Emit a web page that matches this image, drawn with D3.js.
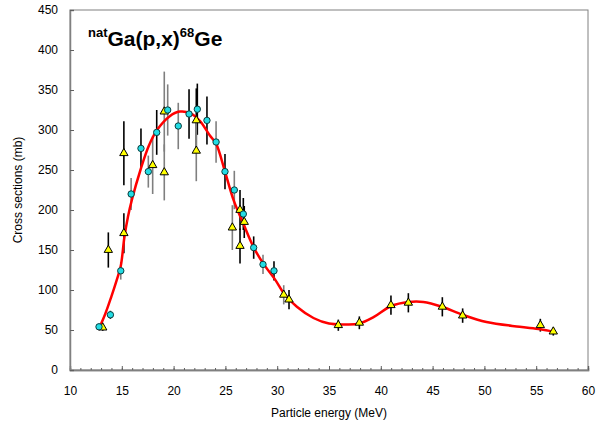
<!DOCTYPE html>
<html><head><meta charset="utf-8">
<script src="https://cdn.jsdelivr.net/npm/d3@7"></script>
<style>body{margin:0;background:#fff} text{font-family:Arial,"Liberation Sans",sans-serif}</style>
</head><body><svg id="c" width="608" height="433"></svg>
<script>
// ---- data ----
const xTicks = [10,15,20,25,30,35,40,45,50,55,60];
const yTicks = [0,50,100,150,200,250,300,350,400,450];

// cyan markers: energy, cross section, uncertainty, source of error bar (A = dark, B = grey)
const cyanE   = [12.8,13.9,14.9,15.9,16.85,17.56,18.37,19.43,20.45,21.49,22.29,23.22,24.1,24.96,25.86,26.73,27.73,28.63,29.69];
const cyanV   = [54,69,124,220,277,248,297,325,305,320,326,312,285,248,225,195,153,132,124];
const cyanErr = [3,5,11,20,25,20,28,32,29,31,32,30,26,22,24,20,14,12,12];
const cyanSrc = ["B","A","B","B","A","B","A","B","B","A","A","A","B","A","B","A","A","B","A"];

// yellow triangles
const triE   = [13.16,13.7,15.2,15.2,17.98,19.1,19.1,22.19,22.19,25.67,26.41,26.82,26.41,30.63,31.14,35.9,37.93,40.98,42.66,45.94,47.9,55.4,56.65];
const triV   = [53,150,171,271,256,323,247,312,274,178,200,185,155,94,88,56,59,81,84,79,68,56,48];
const triErr = [4,22,25,40,36,50,35,40,38,28,25,20,22,12,12,7,8,12,12,12,9,8,5];
const triSrc = ["A","A","A","A","B","B","B","A","B","B","A","A","A","B","A","A","A","A","A","A","A","A","A"];

// fitted curve
const fitE = [12.74,13.4,14.0,14.5,14.9,15.25,15.6,16.0,16.8,17.6,18.4,19.6,20.6,21.6,22.55,23.5,24.1,24.96,25.8,26.73,27.7,28.66,29.8,30.63,31.9,33.5,35.0,36.5,37.9,39.3,41.0,42.7,44.1,45.9,47.9,50.2,53.4,55.4,56.65];
const fitV = [50,70,92,112,130,166,192,214,250,280,300,317,323,321,311,293,283,248,212,183,154,133,113,96,79,65,58,57,58,66,80,85,85,79,69,60,54,51,48];

// ---- chart ----
const W=608,H=433, m={l:70,r:20,t:10,b:63};
const svg=d3.select("#c");
const x=d3.scaleLinear().domain([10,60]).range([m.l,W-m.r]);
const y=d3.scaleLinear().domain([0,450]).range([H-m.b,m.t]);

// frame
svg.append("rect").attr("x",x(10)).attr("y",y(450)).attr("width",x(60)-x(10)).attr("height",y(0)-y(450))
  .attr("fill","none").attr("stroke","#808080").attr("stroke-width",1);

// axes
const xAxis=d3.axisBottom(x).tickValues(xTicks).tickSize(-4).tickPadding(16).tickFormat(d3.format("d"));
const gx=svg.append("g").attr("transform",`translate(0,${y(0)})`).call(xAxis);
const gxm=svg.append("g").attr("transform",`translate(0,${y(0)})`)
  .call(d3.axisBottom(x).tickValues(d3.range(10,61,1)).tickSize(-2).tickFormat(""));
const yAxis=d3.axisLeft(y).tickValues(yTicks).tickSize(-4).tickPadding(12);
const gy=svg.append("g").attr("transform",`translate(${x(10)},0)`).call(yAxis);
[gx,gxm,gy].forEach(g=>{
  g.select(".domain").attr("stroke","#808080").attr("stroke-width",1.5);
  g.selectAll(".tick line").attr("stroke","#606060");
  g.selectAll("text").attr("font-size",12).attr("fill","#000");
});

// error bars
const errCol={A:"#000000",B:"#7f7f7f"};
const cyan=cyanE.map((e,i)=>({e,v:cyanV[i],d:cyanErr[i],s:cyanSrc[i]}));
const tri=triE.map((e,i)=>({e,v:triV[i],d:triErr[i],s:triSrc[i]}));
svg.append("g").selectAll("line").data(cyan.concat(tri)).join("line")
  .attr("x1",d=>x(d.e)).attr("x2",d=>x(d.e))
  .attr("y1",d=>y(d.v-d.d)).attr("y2",d=>y(d.v+d.d))
  .attr("stroke",d=>errCol[d.s]).attr("stroke-width",1.6);

// curve
svg.append("path").datum(fitE.map((e,i)=>[e,fitV[i]]))
  .attr("d",d3.line().x(d=>x(d[0])).y(d=>y(d[1])).curve(d3.curveCatmullRom.alpha(0.5)))
  .attr("fill","none").attr("stroke","#ff0000").attr("stroke-width",2.5);

// markers
svg.append("g").selectAll("path").data(tri).join("path")
  .attr("d",d3.symbol(d3.symbolTriangle,30))
  .attr("transform",d=>`translate(${x(d.e)},${y(d.v)})`)
  .attr("fill","#ffff00").attr("stroke","#000").attr("stroke-width",1);
svg.append("g").selectAll("path").data(cyan).join("path")
  .attr("d",d3.symbol(d3.symbolCircle,32))
  .attr("transform",d=>`translate(${x(d.e)},${y(d.v)})`)
  .attr("fill","#22dce4").attr("stroke","#0c3c3c").attr("stroke-width",1);

// axis titles
svg.append("text").attr("x",(x(10)+x(60))/2).attr("y",417).attr("text-anchor","middle")
  .attr("font-size",12).text("Particle energy (MeV)");
svg.append("text").attr("transform",`translate(22,${(y(0)+y(450))/2}) rotate(-90)`)
  .attr("text-anchor","middle").attr("font-size",12).text("Cross sections (mb)");

// title
const t=svg.append("text").attr("x",88).attr("y",46).attr("font-weight","bold").attr("font-size",21);
t.append("tspan").attr("font-size",13).attr("dy",-9).text("nat");
t.append("tspan").attr("dy",9).text("Ga(p,x)");
t.append("tspan").attr("font-size",13).attr("dy",-9).text("68");
t.append("tspan").attr("dy",9).text("Ge");
</script></body></html>
